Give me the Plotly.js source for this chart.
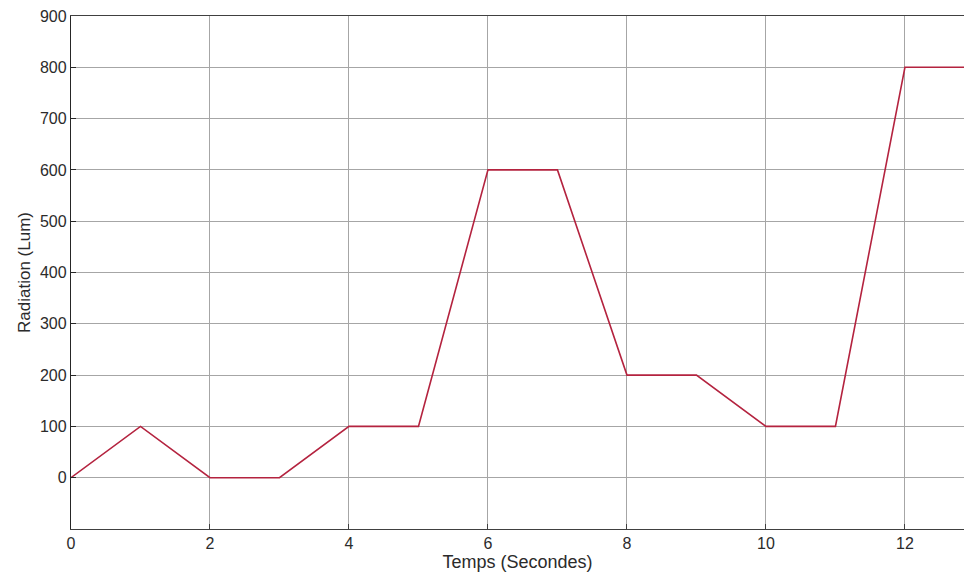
<!DOCTYPE html>
<html>
<head>
<meta charset="utf-8">
<script src="https://cdn.plot.ly/plotly-3.0.1.min.js"></script>
<style>
  html, body { margin: 0; padding: 0; background: #fff; }
  #chart { width: 964px; height: 577px; }
</style>
</head>
<body>
<div id="chart"></div>
<script>
// Irradiance profile applied over time
const temps = [0, 1, 2, 3, 4, 5, 6, 7, 8, 9, 10, 11, 12, 13];
const radiation = [0, 100, 0, 0, 100, 100, 600, 600, 200, 200, 100, 100, 800, 800];
const yTicks = [0, 100, 200, 300, 400, 500, 600, 700, 800, 900];
const xTicks = [0, 2, 4, 6, 8, 10, 12];

const trace = {
  x: temps,
  y: radiation,
  mode: 'lines',
  line: { color: '#b4233f', width: 1.6 },
  hoverinfo: 'skip'
};

const fontFamily = '"Liberation Sans", Arial, sans-serif';

const layout = {
  width: 964,
  height: 577,
  margin: { l: 71, r: 0, t: 16, b: 48 },
  paper_bgcolor: '#ffffff',
  plot_bgcolor: '#ffffff',
  showlegend: false,
  font: { family: fontFamily, color: '#2b2b2b', size: 14 },
  xaxis: {
    range: [0, 12.85],
    tickvals: xTicks,
    ticktext: xTicks.map(String),
    ticks: 'inside',
    ticklen: 5,
    tickcolor: '#404040',
    showgrid: true,
    gridcolor: '#a6a6a6',
    gridwidth: 1,
    zeroline: false,
    showline: true,
    linecolor: '#404040',
    linewidth: 1,
    mirror: true,
    tickfont: { size: 16, color: '#2b2b2b' },
    title: { text: 'Temps (Secondes)', font: { size: 18, color: '#2b2b2b' }, standoff: 3 }
  },
  yaxis: {
    range: [-100, 900],
    tickvals: yTicks,
    ticktext: yTicks.map(String),
    ticks: 'inside',
    ticklen: 5,
    tickcolor: '#262626',
    showgrid: true,
    gridcolor: '#a6a6a6',
    gridwidth: 1,
    zeroline: false,
    showline: true,
    linecolor: '#262626',
    linewidth: 1.2,
    tickfont: { size: 16, color: '#2b2b2b' },
    title: { text: 'Radiation (Lum)', font: { size: 17, color: '#2b2b2b' }, standoff: 5 }
  }
};

Plotly.newPlot('chart', [trace], layout, { displayModeBar: false, staticPlot: true });
</script>
</body>
</html>
